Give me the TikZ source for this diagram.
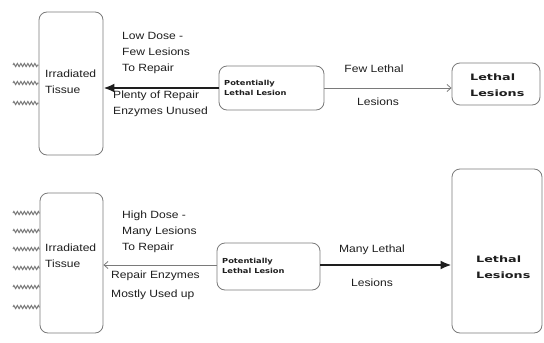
\documentclass[tikz,border=0pt]{standalone}
\usepackage{fontspec}
\setmainfont{Liberation Sans}
\newfontfamily\lblfont[FakeStretch=1.15]{Liberation Sans}
\newfontfamily\boxfont[FakeStretch=1.2]{DejaVu Sans}
\newfontfamily\lethfont[FakeStretch=1.45]{DejaVu Sans}
\usetikzlibrary{arrows.meta,decorations.pathmorphing}
\definecolor{edge}{HTML}{7A7A7A}
\definecolor{ink}{HTML}{1E1E1E}
\begin{document}
\begin{tikzpicture}[x=1pt,y=-1pt,
  roundbox/.style={draw=edge,line width=0.8pt,rounded corners=8pt,inner sep=0pt},
  lbl/.style={font=\lblfont\fontsize{10.5}{16}\selectfont,text=ink,inner sep=0pt,align=left},
  boxtxt/.style={font=\boxfont\bfseries\fontsize{6.9}{10}\selectfont,text=ink,inner sep=0pt,align=left},
  lethtxt/.style={font=\lethfont\bfseries\fontsize{8.8}{16}\selectfont,text=ink,inner sep=0pt,align=left},
  thickarrow/.style={draw=ink,line width=2.6pt,-{Latex[length=11pt,width=9pt]}},
  thinarrow/.style={draw=edge,line width=0.8pt,-{Straight Barb[length=4pt,width=7pt]}},
  squig/.style={draw=edge,line width=1pt,decorate,decoration={zigzag,amplitude=1.6pt,segment length=3.5pt}}
]
\useasboundingbox (0,0) rectangle (544,343);
\fill[white] (0,0) rectangle (544,343);

% ---- top row ----
\node[roundbox,minimum width=64pt,minimum height=143pt] (t1) at (71,83.5) {};
\node[lbl,anchor=west] (t1txt) at (45,82) {Irradiated\\Tissue};
\node[roundbox,minimum width=105pt,minimum height=44pt] (p1) at (271.5,88) {};
\node[boxtxt,anchor=west] (p1txt) at (224,88) {Potentially\\Lethal Lesion};
\node[roundbox,minimum width=88pt,minimum height=42pt] (l1) at (496,84) {};
\node[lethtxt,anchor=west] (l1txt) at (470,85) {Lethal\\Lesions};

\draw[thickarrow] (p1.west) -- (p1.west -| t1.east);
\draw[thinarrow] (p1.east) -- (p1.east -| l1.west);

\node[lbl,anchor=north west] (lowdose) at (122,32) {Low Dose -\\Few Lesions\\To Repair};
\node[lbl,anchor=north west] (plenty) at (113,91) {Plenty of Repair\\Enzymes Unused};
\node[lbl] (fewl) at (374,69) {Few Lethal};
\node[lbl] (les1) at (378,102) {Lesions};

\foreach \yy [count=\i] in {65,83,103}
  \coordinate (wa\i) at (13,\yy);
\foreach \i in {1,2,3}
  \draw[squig] (wa\i) -- (wa\i -| t1.west);

% ---- bottom row ----
\node[roundbox,minimum width=63pt,minimum height=140pt] (t2) at (71.5,263) {};
\node[lbl,anchor=west] (t2txt) at (45,256) {Irradiated\\Tissue};
\node[roundbox,minimum width=103pt,minimum height=47pt] (p2) at (268.5,266.5) {};
\node[boxtxt,anchor=west] (p2txt) at (222,266) {Potentially\\Lethal Lesion};
\node[roundbox,minimum width=90pt,minimum height=164pt] (l2) at (497,251) {};
\node[lethtxt,anchor=west] (l2txt) at (476,267) {Lethal\\Lesions};

\draw[thinarrow] (p2.west |- 0,265) -- (t2.east |- 0,265);
\draw[thickarrow] (p2.east |- 0,265) -- (l2.west |- 0,265);

\node[lbl,anchor=north west] (highdose) at (122,211) {High Dose -\\Many Lesions\\To Repair};
\node[lbl,anchor=north west,font=\lblfont\fontsize{10.5}{18.5}\selectfont] (mostly) at (111,271) {Repair Enzymes\\Mostly Used up};
\node[lbl] (manyl) at (372,250) {Many Lethal};
\node[lbl] (les2) at (372,283) {Lesions};

\foreach \yy [count=\i] in {213,231,249,268,287,307}
  \coordinate (wb\i) at (13,\yy);
\foreach \i in {1,...,6}
  \draw[squig] (wb\i) -- (wb\i -| t2.west);
\end{tikzpicture}
\end{document}
